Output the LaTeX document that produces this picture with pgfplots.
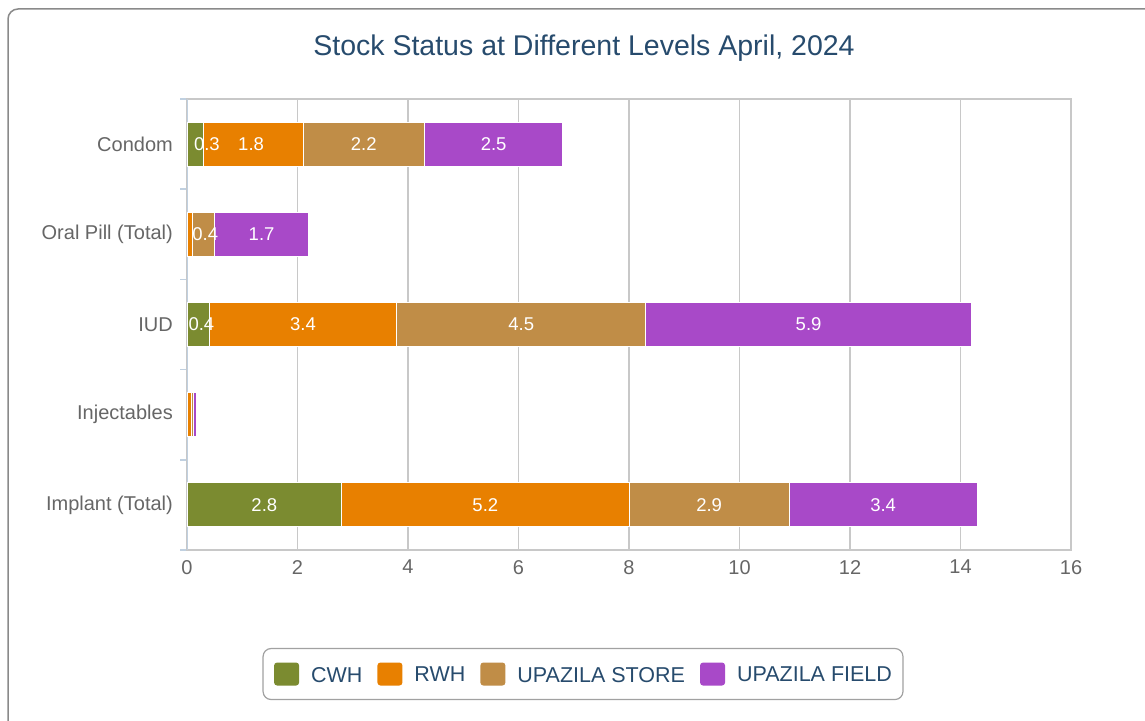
\documentclass[border=0pt]{standalone}
\usepackage{fontspec}
\setmainfont{Liberation Sans}
\usepackage{pgfplots}
\usepackage{pgfplotstable}
\pgfplotsset{compat=1.18}
\definecolor{cwh}{RGB}{123,139,48}
\definecolor{rwh}{RGB}{232,128,0}
\definecolor{ustore}{RGB}{192,141,71}
\definecolor{ufield}{RGB}{168,73,200}
\definecolor{titleblue}{HTML}{274B6D}
\definecolor{labgray}{HTML}{666666}
\definecolor{gridgray}{HTML}{C8C8C8}
\definecolor{axisblue}{HTML}{C0D0E0}
\definecolor{framegray}{HTML}{8A8A8A}

% y: 4 = Condom, 3 = Oral Pill, 2 = IUD, 1 = Injectables, 0 = Implant
\pgfplotstableread{
y cwh rwh store field
4 0.3 1.8 2.2 2.5
3 0 0.1 0.4 1.7
2 0.4 3.4 4.5 5.9
1 0 0.09 0.02 0.07
0 2.8 5.2 2.9 3.4
}\stock

\pgfplotstableread{
x y label
0.36 4 0.3
1.16 4 1.8
3.20 4 2.2
5.55 4 2.5
0.33 3 0.4
1.35 3 1.7
0.26 2 0.4
2.10 2 3.4
6.05 2 4.5
11.25 2 5.9
1.40 0 2.8
5.40 0 5.2
9.45 0 2.9
12.60 0 3.4
}\labels

\begin{document}
\begin{tikzpicture}[x=1pt,y=1pt]
\useasboundingbox (0,0) rectangle (1145,720);
\draw[framegray, line width=1.5pt, rounded corners=10pt] (8,-30) -- (8,711) -- (1180,711);
\node[text=titleblue, font=\fontsize{28.5}{32}\selectfont] at (584,672) {Stock Status at Different Levels April, 2024};

\begin{axis}[
  at={(187pt,170pt)}, anchor=south west,
  scale only axis, width=884pt, height=451pt,
  xmin=0, xmax=16, ymin=-0.5, ymax=4.5,
  xbar stacked, bar width=44pt,
  xtick={0,2,...,16},
  ytick={0,1,2,3,4},
  yticklabels={Implant (Total),Injectables,IUD,Oral Pill (Total),Condom},
  minor ytick={-0.5,0.5,1.5,2.5,3.5,4.5},
  ytick pos=left, xtick pos=bottom,
  tick align=outside,
  major tick length=0pt,
  minor tick length=7pt,
  minor tick style={axisblue, line width=1.5pt},
  xmajorgrids,
  major grid style={gridgray, line width=1.2pt},
  axis line style={gridgray, line width=1.2pt},
  /pgf/number format/assume math mode=true,
  ticklabel style={font=\fontsize{20}{23}\selectfont, text=labgray},
  xticklabel style={inner sep=0pt, anchor=north, yshift=-10pt},
  yticklabel style={inner sep=0pt, anchor=east, xshift=-14pt},
  legend columns=4,
  legend style={at={(0.448,-0.275)}, anchor=center,
    draw=framegray!80, line width=1.2pt, rounded corners=8pt,
    inner xsep=11pt, inner ysep=14pt,
    font=\fontsize{21.5}{24}\selectfont, text=titleblue,
    /tikz/every even column/.append style={column sep=15pt},
    nodes={inner sep=0pt, text depth=0pt}},
  legend image code/.code={\fill[#1, draw=none, rounded corners=3pt] (0pt,-11pt) rectangle (25pt,12pt);},
  legend cell align=left,
]
\addplot[fill=cwh, draw=white, line width=1pt] table[x=cwh, y=y] {\stock};
\addlegendentry{\hspace{12pt}CWH}
\addplot[fill=rwh, draw=white, line width=1pt] table[x=rwh, y=y] {\stock};
\addlegendentry{\hspace{12pt}RWH}
\addplot[fill=ustore, draw=white, line width=1pt] table[x=store, y=y] {\stock};
\addlegendentry{\hspace{12pt}UPAZILA STORE}
\addplot[fill=ufield, draw=white, line width=1pt] table[x=field, y=y] {\stock};
\addlegendentry{\hspace{12pt}UPAZILA FIELD}
\draw[axisblue, line width=2pt] (axis cs:0,-0.5) -- (axis cs:0,4.5);
\end{axis}

\begin{axis}[
  at={(187pt,170pt)}, anchor=south west,
  scale only axis, width=884pt, height=451pt,
  xmin=0, xmax=16, ymin=-0.5, ymax=4.5,
  hide axis,
]
\addplot[draw=none, mark=none, nodes near coords, point meta=explicit symbolic,
  nodes near coords style={text=white, anchor=center, font=\fontsize{18.5}{22}\selectfont}]
  table[x=x, y=y, meta=label] {\labels};
\end{axis}
\end{tikzpicture}
\end{document}
